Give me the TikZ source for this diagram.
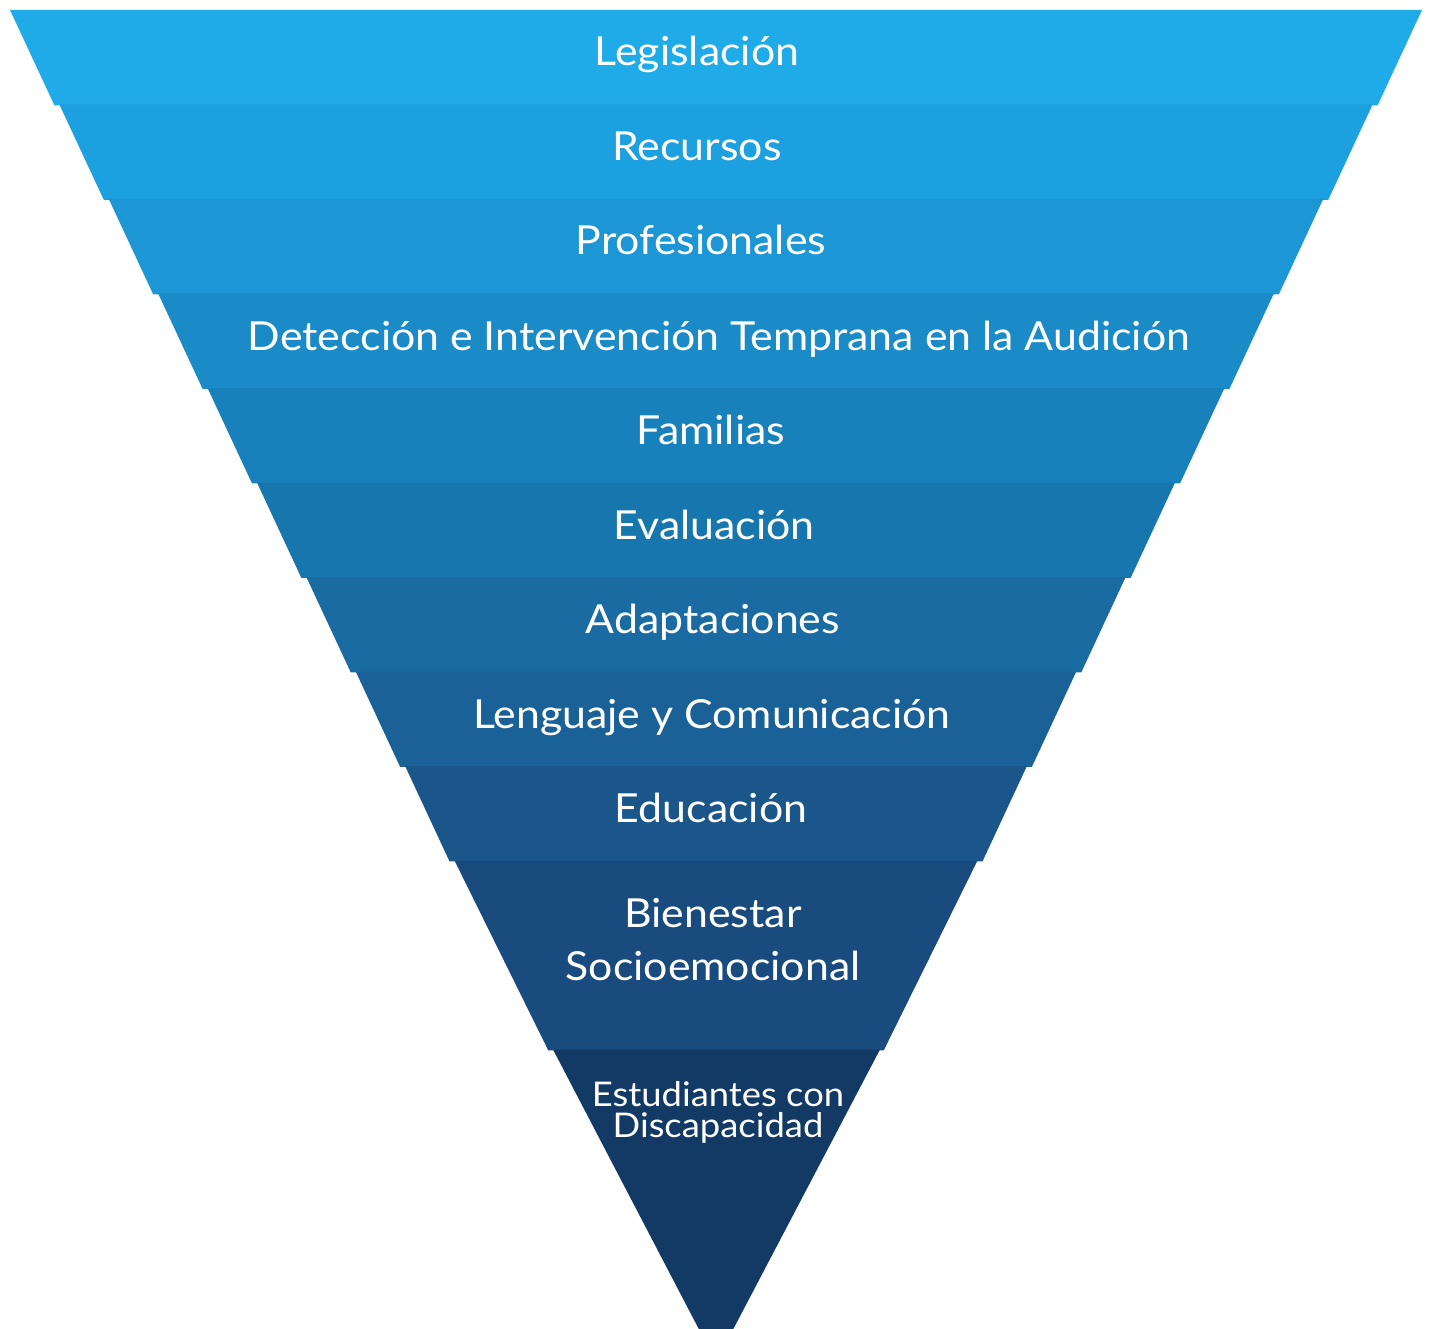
\documentclass[tikz,border=0pt]{standalone}
\usepackage{fontspec}
\setmainfont{Lato}[FakeStretch=1.07]
\usepackage{tikz}

\definecolor{bandA}{HTML}{1FAAE8}
\definecolor{bandB}{HTML}{1DA0E0}
\definecolor{bandC}{HTML}{1C96D4}
\definecolor{bandD}{HTML}{1A8BC7}
\definecolor{bandE}{HTML}{1881BB}
\definecolor{bandF}{HTML}{1876AE}
\definecolor{bandG}{HTML}{196BA2}
\definecolor{bandH}{HTML}{1A6197}
\definecolor{bandI}{HTML}{1A568A}
\definecolor{bandJ}{HTML}{194B7E}
\definecolor{bandK}{HTML}{123A65}

\tikzset{
    lbl/.style={text=white, anchor=base, inner sep=0pt, font=\fontsize{40}{53}\selectfont},
    lblsmall/.style={lbl, align=center, font=\fontsize{34}{31}\selectfont}
}

\begin{document}
\begin{tikzpicture}[x=1pt,y=-1pt]
    \useasboundingbox (0,0) rectangle (1434,1329);
    \clip (0,0) rectangle (1434,1329);
    \foreach \c/\t/\b in {bandA/0/1, bandB/1/2, bandC/2/3, bandD/3/4, bandE/4/5,
                          bandF/5/6, bandG/6/7, bandH/7/8, bandI/8/9, bandJ/9/11} {
        \pgfmathsetmacro\yt{10+94.5*\t}
        \pgfmathsetmacro\yb{10+94.5*\b}
        \pgfmathsetmacro\wt{706-0.5226*(\yt-10)}
        \pgfmathsetmacro\wb{706-0.5226*(\yb-10)+5}
        \fill[\c] (716-\wt,\yt) -- (716+\wt,\yt) -- (716+\wb,\yb+0.8) -- (716-\wb,\yb+0.8) -- cycle;
    }
    \fill[bandK] (553,1049.5) -- (880,1049.5) -- (716,1362) -- cycle;

    \node[lbl] (legis) at (697,66) {Legislación};
    \node[lbl] (recur) at (697,161) {Recursos};
    \node[lbl] (prof) at (701,255) {Profesionales};
    \node[lbl] (deteccion) at (719,350) {Detección e Intervención Temprana en la Audición};
    \node[lbl] (fam) at (711,444) {Familias};
    \node[lbl] (eval) at (714,539) {Evaluación};
    \node[lbl] (adapt) at (713,633) {Adaptaciones};
    \node[lbl] (lengua) at (712,728) {Lenguaje y Comunicación};
    \node[lbl] (educ) at (711,822) {Educación};
    \node[lbl, align=center] (bienestar) at (713,980) {Bienestar\\Socioemocional};
    \node[lblsmall] (estud) at (718,1137) {Estudiantes con\\Discapacidad};
\end{tikzpicture}
\end{document}
